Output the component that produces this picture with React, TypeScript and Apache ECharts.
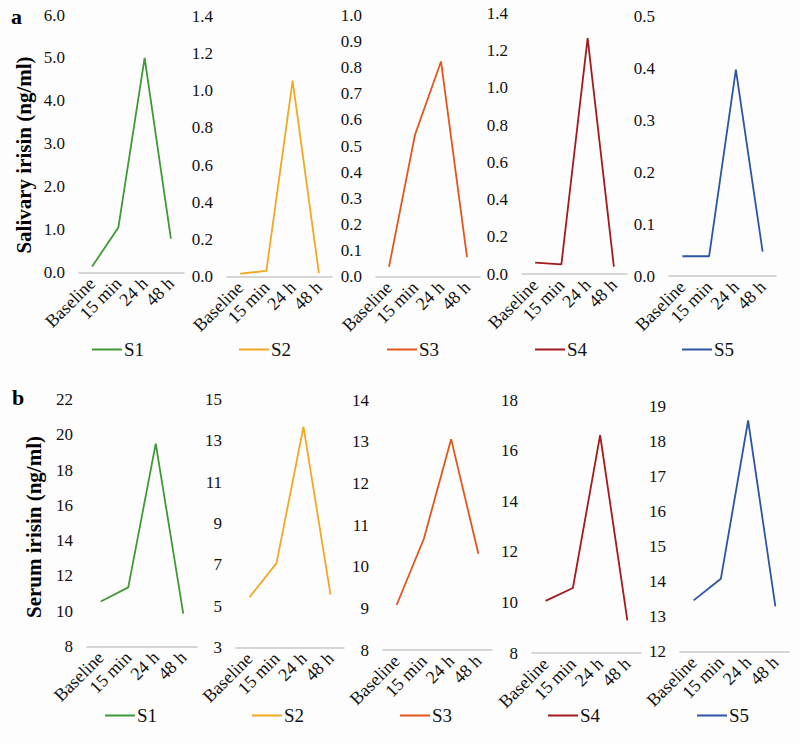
import React, { useEffect, useRef } from "react";
import * as echarts from "echarts";

const categories = ["Baseline", "15 min", "24 h", "48 h"];
const seriesNames = ["S1", "S2", "S3", "S4", "S5"];
const colors = ["#3f9a34", "#f2a922", "#e2561d", "#a3191c", "#2c55a3"];

const salivaS1 = [0.14, 1.05, 5.0, 0.79];
const salivaS2 = [0.015, 0.03, 1.055, 0.018];
const salivaS3 = [0.037, 0.543, 0.824, 0.074];
const salivaS4 = [0.061, 0.052, 1.268, 0.039];
const salivaS5 = [0.038, 0.038, 0.397, 0.047];

const serumS1 = [10.55, 11.35, 19.5, 9.86];
const serumS2 = [5.43, 7.08, 13.68, 5.56];
const serumS3 = [9.08, 10.67, 13.06, 10.31];
const serumS4 = [10.06, 10.57, 16.61, 9.29];
const serumS5 = [13.46, 14.08, 18.6, 13.29];

const salivaMin = [0, 0, 0, 0, 0];
const salivaMax = [6, 1.4, 1.0, 1.4, 0.5];
const salivaInterval = [1, 0.2, 0.1, 0.2, 0.1];

const serumMin = [8, 3, 8, 8, 12];
const serumMax = [22, 15, 14, 18, 19];
const serumInterval = [2, 2, 1, 2, 1];

// layout (pixels): [left, right, top, bottom]
const gridsA = [
  [79, 184, 15, 272.5],
  [227, 332, 16.5, 276.5],
  [376, 480, 15.5, 276.5],
  [522, 627, 13.5, 274],
  [669, 776, 16, 276],
];
const gridsB = [
  [87, 197, 399.5, 646.5],
  [236, 344, 399.5, 647.5],
  [383, 492, 400, 650],
  [532, 641, 400, 653],
  [680, 789, 406.5, 651.5],
];
const legendA = [92, 239, 387, 535, 682];
const legendB = [105, 252, 400, 548, 697];

const FONT = "'Liberation Serif', 'Times New Roman', serif";

export default function App() {
  const ref = useRef<HTMLDivElement>(null);
  useEffect(() => {
    if (!ref.current) return;
    const chart = echarts.init(ref.current, undefined, { renderer: "svg" });
    const saliva = [salivaS1, salivaS2, salivaS3, salivaS4, salivaS5];
    const serum = [serumS1, serumS2, serumS3, serumS4, serumS5];

    const grid: any[] = [];
    const xAxis: any[] = [];
    const yAxis: any[] = [];
    const series: any[] = [];
    const legend: any[] = [];

    const addPanel = (
      g: number[],
      data: number[],
      min: number,
      max: number,
      interval: number,
      decimals: number,
      idx: number,
      legendLeft: number,
      legendTop: number
    ) => {
      const gi = grid.length;
      grid.push({
        left: g[0],
        top: g[2],
        width: g[1] - g[0],
        height: g[3] - g[2],
        containLabel: false,
      });
      xAxis.push({
        type: "category",
        gridIndex: gi,
        data: categories,
        boundaryGap: true,
        axisLine: { show: true, lineStyle: { color: "#c9c9c9", width: 1.5 } },
        axisTick: { show: false },
        axisLabel: {
          rotate: 45,
          interval: 0,
          margin: 8,
          color: "#111",
          fontFamily: FONT,
          fontSize: 18,
        },
        splitLine: { show: false },
      });
      yAxis.push({
        type: "value",
        gridIndex: gi,
        min,
        max,
        interval,
        axisLine: { show: false },
        axisTick: { show: false },
        splitLine: { show: false },
        axisLabel: {
          margin: 14,
          color: "#111",
          fontFamily: FONT,
          fontSize: 17,
          formatter: (v: number) => v.toFixed(decimals),
        },
      });
      series.push({
        type: "line",
        name: seriesNames[idx],
        xAxisIndex: gi,
        yAxisIndex: gi,
        data,
        showSymbol: false,
        symbol: "none",
        lineStyle: { color: colors[idx], width: 1.8 },
        itemStyle: { color: colors[idx] },
      });
      legend.push({
        data: [seriesNames[idx]],
        left: legendLeft,
        top: legendTop,
        padding: 0,
        icon: "rect",
        itemWidth: 30,
        itemHeight: 2,
        selectedMode: false,
        textStyle: { color: "#111", fontFamily: FONT, fontSize: 19, padding: [0, 0, 0, -3] },
      });
    };

    for (let i = 0; i < 5; i++) {
      addPanel(gridsA[i], saliva[i], salivaMin[i], salivaMax[i], salivaInterval[i], 1, i, legendA[i], 340);
    }
    for (let i = 0; i < 5; i++) {
      addPanel(gridsB[i], serum[i], serumMin[i], serumMax[i], serumInterval[i], 0, i, legendB[i], 706);
    }

    chart.setOption({
      animation: false,
      backgroundColor: "#fdfdfd",
      textStyle: { fontFamily: FONT },
      grid,
      xAxis,
      yAxis,
      series,
      legend,
      graphic: [
        {
          type: "text",
          left: 11,
          top: 5,
          style: { text: "a", fontFamily: FONT, fontWeight: "bold", fontSize: 22, fill: "#000" },
        },
        {
          type: "text",
          left: 12,
          top: 386,
          style: { text: "b", fontFamily: FONT, fontWeight: "bold", fontSize: 22, fill: "#000" },
        },
        {
          type: "text",
          x: 24,
          y: 155,
          rotation: Math.PI / 2,
          style: {
            text: "Salivary irisin (ng/ml)",
            fontFamily: FONT,
            fontWeight: "bold",
            fontSize: 21,
            fill: "#000",
            align: "center",
            verticalAlign: "middle",
          },
        },
        {
          type: "text",
          x: 34,
          y: 527,
          rotation: Math.PI / 2,
          style: {
            text: "Serum irisin (ng/ml)",
            fontFamily: FONT,
            fontWeight: "bold",
            fontSize: 21,
            fill: "#000",
            align: "center",
            verticalAlign: "middle",
          },
        },
      ],
    });
    return () => chart.dispose();
  }, []);
  return (
    <div
      ref={ref}
      style={{ position: "fixed", left: 0, top: 0, width: 800, height: 744 }}
    />
  );
}
